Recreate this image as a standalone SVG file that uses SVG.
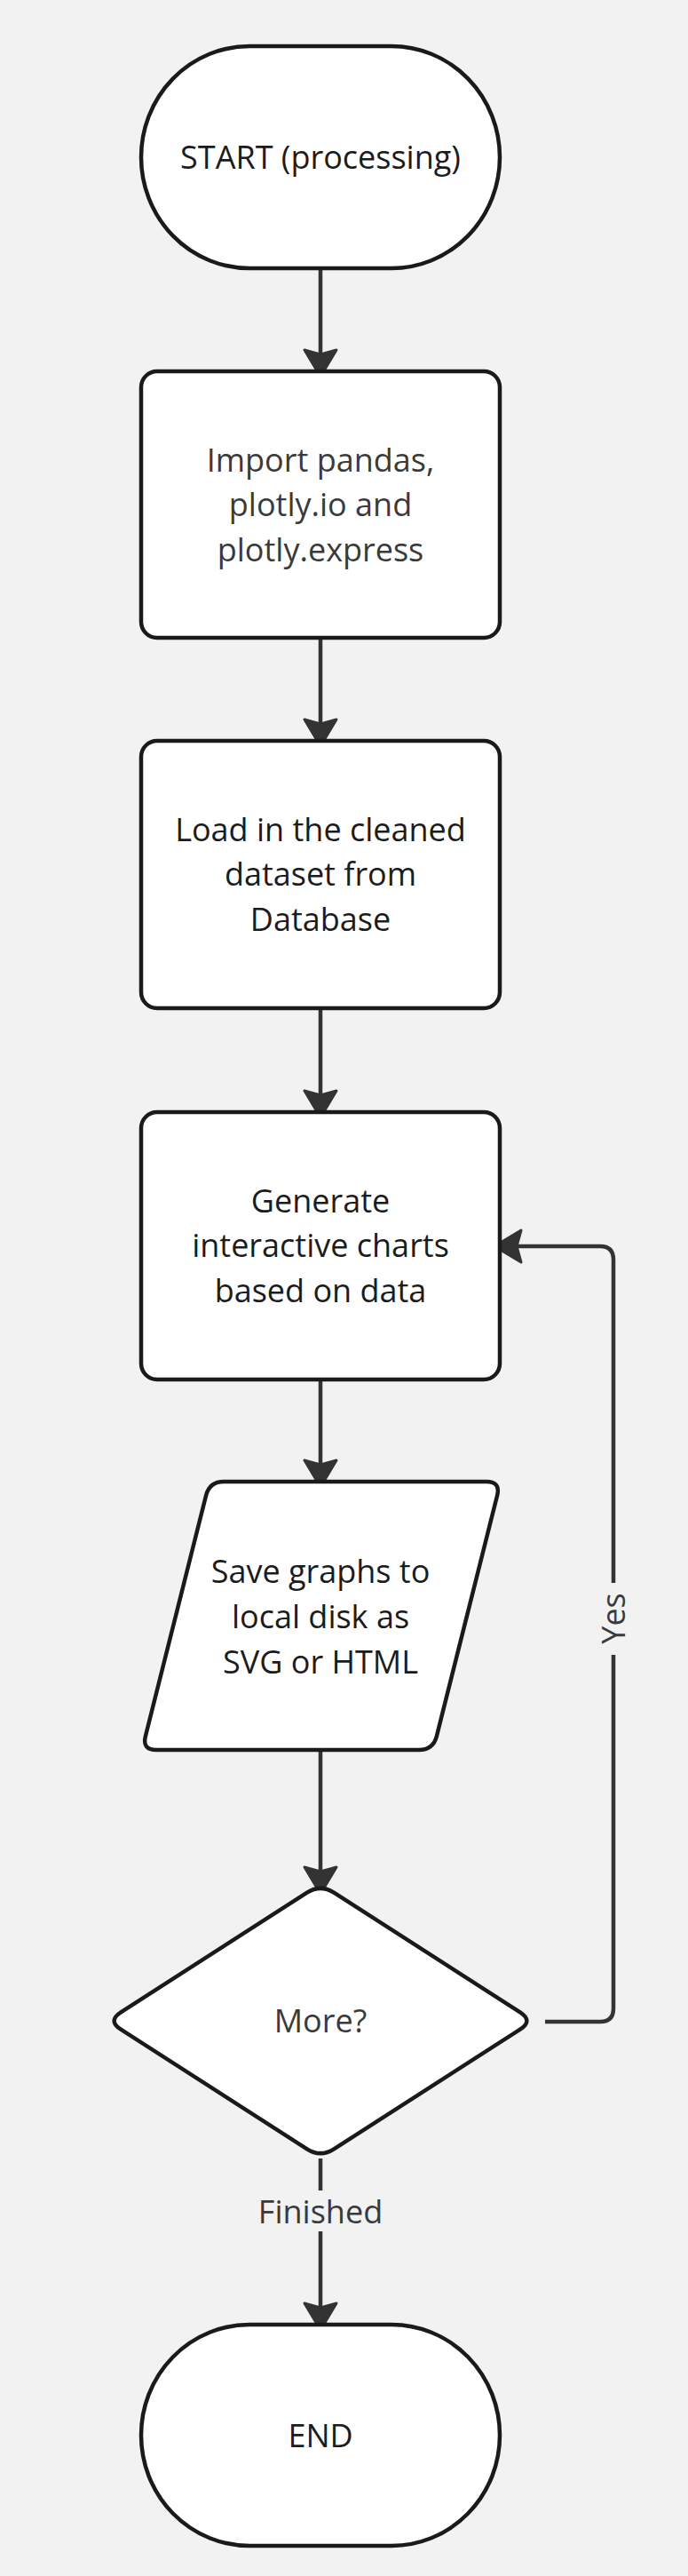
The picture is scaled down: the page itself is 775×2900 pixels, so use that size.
<svg xmlns="http://www.w3.org/2000/svg" width="775" height="2900" viewBox="0 0 775 2900">
<style>
.bg{fill:#f2f2f2}
.node{fill:#ffffff;stroke:#1a1a1a;stroke-width:4.5;stroke-linejoin:round}
.t{font-family:"Open Sans","Noto Sans","DejaVu Sans",sans-serif;font-size:36px;text-anchor:middle;fill:#1c1c1c}
.tg{fill:#3a3a3a}
.conn{fill:none;stroke:#333333;stroke-width:4.5;marker-end:url(#ah)}
</style>
<defs>
<marker id="ah" viewBox="-36 -22 40 44" refX="-8" refY="0" markerWidth="40" markerHeight="44" markerUnits="userSpaceOnUse" orient="auto">
<path d="M0 0 L-30 -18 L-25 0 L-30 18 Z" fill="#333333" stroke="#333333" stroke-width="3" stroke-linejoin="round"/>
</marker>
</defs>
<rect class="bg" x="0" y="0" width="775" height="2900"/>

<g id="connectors">
<path class="conn" d="M361 304 V416"/>
<path class="conn" d="M361 720 V832"/>
<path class="conn" d="M361 1137 V1250"/>
<path class="conn" d="M361 1555 V1666"/>
<path class="conn" d="M361 1972 V2124"/>
<path class="conn" d="M361 2430 V2466 M361 2512 V2615"/>
<path class="conn" d="M614 2276 H676 Q691 2276 691 2261 V1863 M691 1782 V1418 Q691 1403 676 1403 H565"/>
<text class="t tg" x="361" y="2503">Finished</text>
<text class="t tg" transform="translate(691 1822) rotate(-90)" x="0" y="13">Yes</text>
</g>

<g id="start">
<rect class="node" x="159" y="52" width="404" height="250" rx="122" ry="125"/>
<text class="t" x="361" y="190">START (processing)</text>
</g>

<g id="import">
<rect class="node" x="159" y="418" width="404" height="300" rx="18"/>
<text class="t tg" x="361" y="531">Import pandas,</text>
<text class="t tg" x="361" y="581">plotly.io and</text>
<text class="t tg" x="361" y="632">plotly.express</text>
</g>

<g id="load">
<rect class="node" x="159" y="834" width="404" height="301" rx="18"/>
<text class="t" x="361" y="947">Load in the cleaned</text>
<text class="t" x="361" y="997">dataset from</text>
<text class="t" x="361" y="1048">Database</text>
</g>

<g id="generate">
<rect class="node" x="159" y="1252" width="404" height="301" rx="18"/>
<text class="t" x="361" y="1365">Generate</text>
<text class="t" x="361" y="1415">interactive charts</text>
<text class="t" x="361" y="1466">based on data</text>
</g>

<g id="save">
<path class="node" d="M252 1668 L548 1668 Q564 1668 560.1 1683.5 L491.9 1954.5 Q488 1970 472 1970 L176 1970 Q160 1970 163.9 1954.5 L232.1 1683.5 Q236 1668 252 1668 Z"/>
<text class="t" x="361" y="1782">Save graphs to</text>
<text class="t" x="361" y="1833">local disk as</text>
<text class="t" x="361" y="1884">SVG or HTML</text>
</g>

<g id="more">
<path class="node" d="M345.85 2130.72 Q361 2121 376.15 2130.72 L585.85 2265.28 Q601 2275 585.85 2284.72 L376.15 2419.28 Q361 2429 345.85 2419.28 L136.15 2284.72 Q121 2275 136.15 2265.28 Z"/>
<text class="t tg" x="361" y="2288">More?</text>
</g>

<g id="end">
<rect class="node" x="159" y="2617" width="404" height="249" rx="122" ry="124.5"/>
<text class="t" x="361" y="2755">END</text>
</g>
</svg>
